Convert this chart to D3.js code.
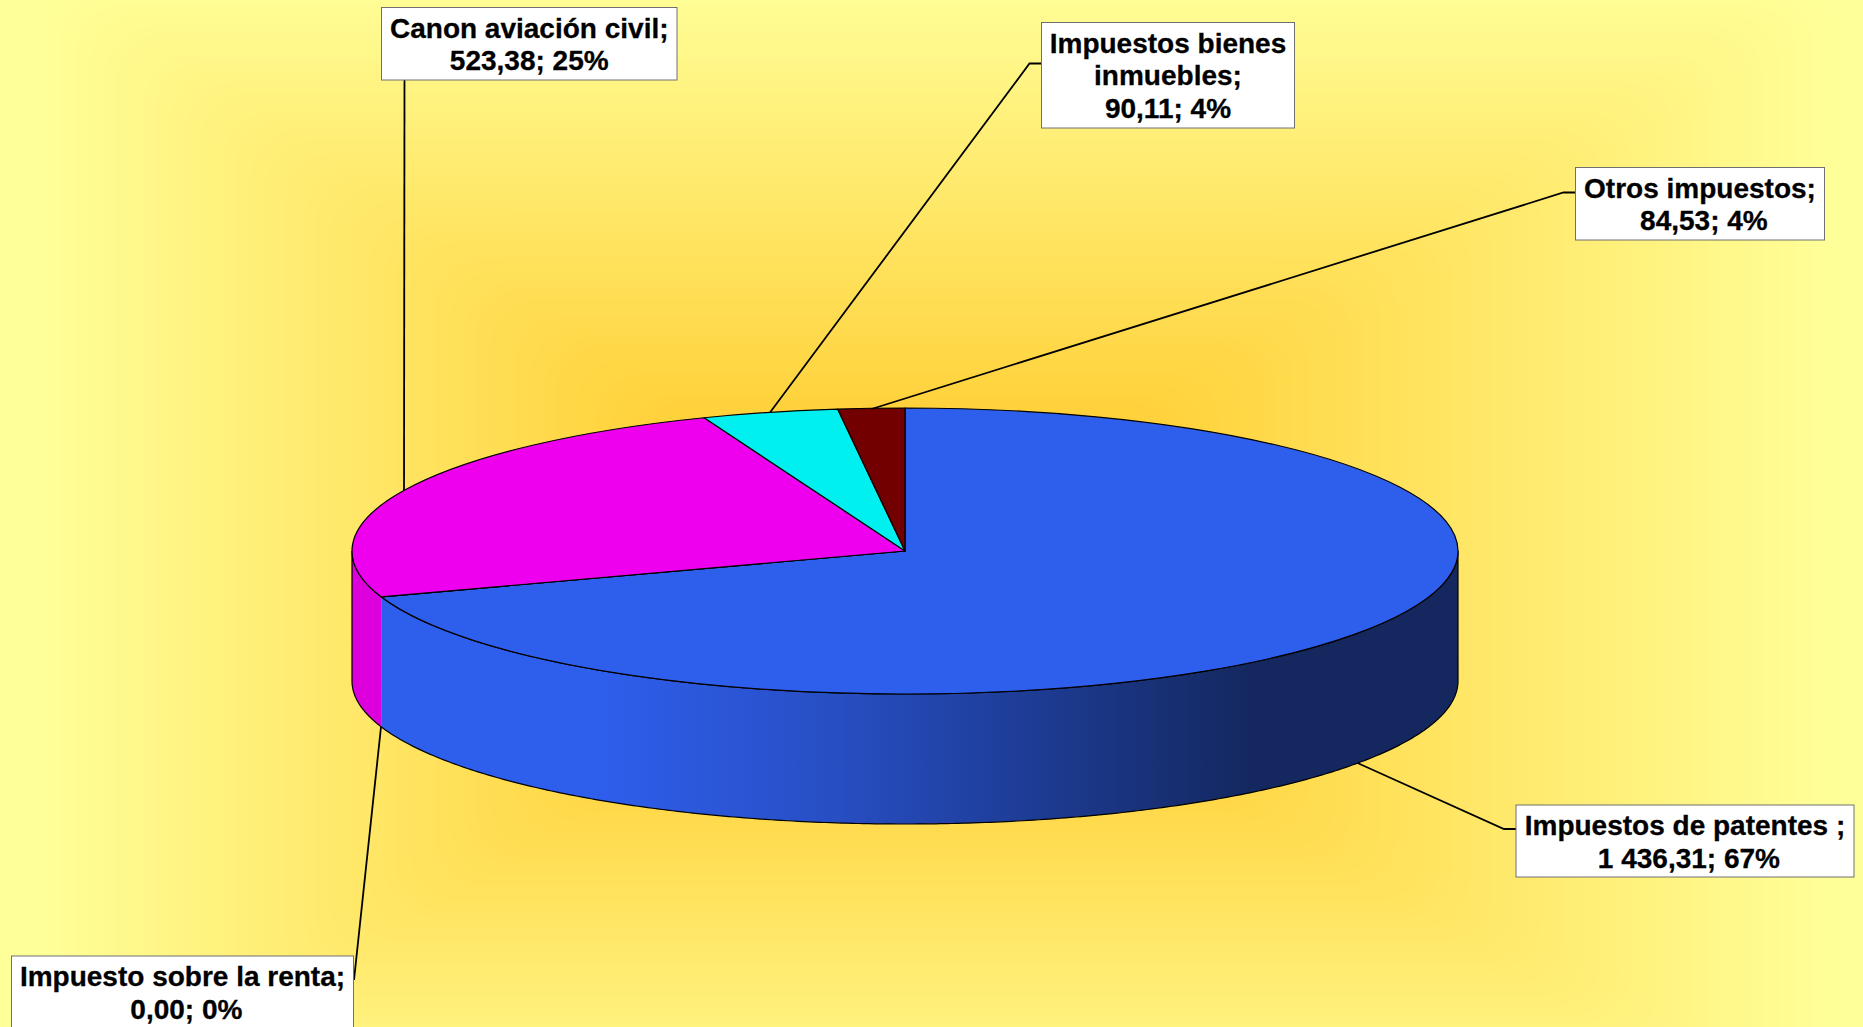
<!DOCTYPE html>
<html lang="es">
<head>
<meta charset="utf-8">
<title>Impuestos</title>
<script src="https://cdn.jsdelivr.net/npm/d3@7/dist/d3.min.js"></script>
<style>
html,body{margin:0;padding:0;overflow:hidden;background:#FFFF99}
svg{display:block}
text{font-family:"Liberation Sans",Arial,sans-serif;font-weight:700;fill:#000;stroke:#000;stroke-width:0.3px}
</style>
</head>
<body>
<svg id="chart" width="1863" height="1027"></svg>
<script>
// ---- Data, as printed on the labels ----
const categories = ["Impuestos de patentes ", "Impuesto sobre la renta", "Canon aviación civil", "Impuestos bienes\ninmuebles", "Otros impuestos"];
const values = [1436.31, 0.00, 523.38, 90.11, 84.53];
// Share of the pie as it is actually drawn in the picture (in degrees).
const drawnAngles = [251.3, 0, 87.4, 14.3, 7.0];
const topColors = ["#2E5EEC", "#2E5EEC", "#EE00EE", "#00F0F0", "#720000"];

// ---- Layout (annotation furniture, separate from the data) ----
const W = 1863, H = 1027;
const cx = 905, cy = 551, rx = 553, ry = 143, depth = 130;
const boxes = [
  {x0:1516, y0:805, x1:1854, y1:877, pad:true, lead:[[1516,829],[1504,829],[1357.5,763]]},
  {x0:11.5, y0:956, x1:353.5, y1:1029, pad:true, lead:[[354,980],[381,727]]},
  {x0:381.5, y0:7.5, x1:677, y1:80, pad:false, lead:[[404.5,80],[404,490]]},
  {x0:1041.5, y0:22.5, x1:1294.5, y1:128, pad:false, lead:[[1041,63.5],[1029.5,63.5],[770,412.5]]},
  {x0:1575.5, y0:167.5, x1:1824.5, y1:240, pad:true, lead:[[1575,192.5],[1563.5,192.5],[871.5,409]]}
];

const svg = d3.select("#chart");
const defs = svg.append("defs");

// ---- Background: rectangular "from centre" gradient ----
const bgT = d3.range(0, 121).map(i => i / 120);
const bgColor = d3.scaleLinear().domain([0, 1]).range(["#FFFF99", "#FFD23C"]).interpolate(d3.interpolateRgb);
const bx0 = d3.scaleLinear().domain([0,1]).range([40, 640]);
const bx1 = d3.scaleLinear().domain([0,1]).range([1835, 1170]);
const by0 = d3.scaleLinear().domain([0,1]).range([-20, 405]);
const by1 = d3.scaleLinear().domain([0,1]).range([1145, 750]);
svg.append("rect").attr("width", W).attr("height", H).attr("fill", "#FFFF99");
svg.append("g").selectAll("rect").data(bgT).join("rect")
  .attr("x", bx0).attr("y", by0)
  .attr("width", t => bx1(t) - bx0(t)).attr("height", t => by1(t) - by0(t))
  .attr("rx", 50).attr("fill", bgColor);

// ---- Pie ----
const pie = d3.pie().sort(null).startAngle(0).endAngle(2 * Math.PI).value(d => d.angle);
const slices = pie(categories.map((c, i) => ({angle: drawnAngles[i], color: topColors[i]})));
const arc = d3.arc().innerRadius(0).outerRadius(rx);
const ex = a => cx + rx * Math.sin(a), ey = a => cy - ry * Math.cos(a);

// side-wall shading runs left to right
const sideStops = [[381,"#2E5EEC"],[600,"#2E5EEC"],[840,"#274EC2"],[1050,"#1C3A90"],[1250,"#14285F"],[1458,"#14285F"]];
const xGrad = d3.scaleLinear().domain([cx - rx, cx + rx]).range([0, 1]);
const grad = defs.append("linearGradient").attr("id", "sideBlue").attr("gradientUnits", "userSpaceOnUse")
  .attr("x1", cx - rx).attr("x2", cx + rx).attr("y1", 0).attr("y2", 0);
grad.selectAll("stop").data(sideStops).join("stop")
  .attr("offset", d => xGrad(d[0])).attr("stop-color", d => d[1]);

const line = d3.line();
const sideGeom = (a0, a1) => {
  const n = Math.max(2, Math.ceil((a1 - a0) / 0.01));
  const as = d3.range(n + 1).map(i => a0 + (a1 - a0) * i / n);
  return as.map(a => [ex(a), ey(a)]).concat(as.slice().reverse().map(a => [ex(a), ey(a) + depth]));
};
const FRONT0 = Math.PI / 2, FRONT1 = Math.PI * 1.5;
const sideColors = ["url(#sideBlue)", "url(#sideBlue)", "#DD00DD", "#00D8D8", "#600000"];
const front = slices.map((s, i) => ({a0: Math.max(s.startAngle, FRONT0), a1: Math.min(s.endAngle, FRONT1), i}))
  .filter(d => d.a1 > d.a0);
svg.append("g").selectAll("path").data(front).join("path")
  .attr("d", d => line(sideGeom(d.a0, d.a1)) + "Z")
  .attr("fill", d => sideColors[d.i]);
// wall outline
svg.append("path").attr("d", line(sideGeom(FRONT0, FRONT1)) + "Z")
  .attr("fill", "none").attr("stroke", "#000").attr("stroke-width", 1.2);

// top face
svg.append("g").attr("transform", `translate(${cx},${cy}) scale(1,${ry / rx})`)
  .selectAll("path").data(slices).join("path")
  .attr("d", arc)
  .attr("fill", d => d.data.color)
  .attr("stroke", "#000").attr("stroke-width", 1.2)
  .attr("stroke-linejoin", "round")
  .attr("vector-effect", "non-scaling-stroke");

// ---- Labels ----
const numFmt = d3.formatLocale({decimal: ",", thousands: " ", grouping: [3], currency: ["", ""]}).format(",.2f");
const pctFmt = d3.format(".0%");
const total = d3.sum(values);
const labelLines = categories.map((c, i) => {
  const parts = c.split("\n");
  parts[parts.length - 1] += ";";
  return parts.concat((boxes[i].pad ? "\u00A0" : "") + `${numFmt(values[i])}; ${pctFmt(values[i] / total)}`);
});

const lab = svg.append("g").selectAll("g").data(boxes).join("g");
lab.append("path").attr("d", d => line(d.lead)).attr("fill", "none")
  .attr("stroke", "#000").attr("stroke-width", 1.8);
lab.append("rect")
  .attr("x", d => d.x0).attr("y", d => d.y0)
  .attr("width", d => d.x1 - d.x0).attr("height", d => d.y1 - d.y0)
  .attr("fill", "#fff").attr("stroke", "#707070").attr("stroke-width", 1);
const lineStep = 32.8;
lab.each(function(d, i) {
  d3.select(this).append("text")
    .attr("text-anchor", "middle").attr("font-size", 28)
    .selectAll("tspan").data(labelLines[i]).join("tspan")
    .attr("x", (d.x0 + d.x1) / 2)
    .attr("y", (t, j) => d.y0 + 30 + j * lineStep)
    .text(t => t);
});
</script>
</body>
</html>
